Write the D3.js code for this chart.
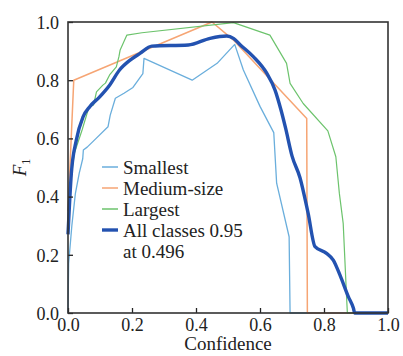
<!DOCTYPE html>
<html><head><meta charset="utf-8">
<script src="https://cdn.jsdelivr.net/npm/d3@7"></script>
<style>body{margin:0;background:#fff}svg{display:block}</style>
</head><body>
<script>
const seriesNames = ["Smallest", "Medium-size", "Largest", "All classes 0.95"];
const smallestX = [0, 0.002, 0.012, 0.023, 0.035, 0.046, 0.048, 0.06, 0.088, 0.125, 0.132, 0.148, 0.175, 0.203, 0.234, 0.2375, 0.388, 0.466, 0.521, 0.548, 0.60, 0.643, 0.652, 0.691, 0.694, 1.0];
const smallestY = [0, 0.17, 0.30, 0.41, 0.48, 0.53, 0.56, 0.57, 0.60, 0.64, 0.68, 0.738, 0.755, 0.775, 0.823, 0.875, 0.80, 0.858, 0.923, 0.835, 0.71, 0.62, 0.446, 0.262, 0, 0];
const mediumX = [0, 0.01, 0.018, 0.45, 0.52, 0.60, 0.746, 0.748, 1.0];
const mediumY = [0.35, 0.60, 0.80, 1.0, 0.935, 0.84, 0.668, 0, 0];
const largestX = [0, 0.008, 0.02, 0.044, 0.066, 0.080, 0.089, 0.109, 0.117, 0.130, 0.151, 0.159, 0.163, 0.184, 0.231, 0.517, 0.631, 0.683, 0.694, 0.735, 0.812, 0.837, 0.848, 0.860, 0.871, 0.873, 1.0];
const largestY = [0.28, 0.45, 0.55, 0.629, 0.709, 0.715, 0.76, 0.783, 0.79, 0.818, 0.846, 0.88, 0.904, 0.955, 0.963, 0.998, 0.955, 0.858, 0.789, 0.72, 0.626, 0.537, 0.411, 0.308, 0.045, 0, 0];
const allX = [0, 0.0104, 0.026, 0.047, 0.068, 0.099, 0.130, 0.161, 0.194, 0.225, 0.262, 0.376, 0.444, 0.496, 0.517, 0.537, 0.579, 0.621, 0.647, 0.665, 0.680, 0.700, 0.725, 0.750, 0.772, 0.808, 0.829, 0.850, 0.876, 0.892, 0.896, 1.0];
const allY = [0.27, 0.479, 0.594, 0.674, 0.709, 0.743, 0.783, 0.835, 0.869, 0.892, 0.917, 0.921, 0.944, 0.952, 0.944, 0.923, 0.881, 0.824, 0.766, 0.70, 0.635, 0.54, 0.465, 0.345, 0.228, 0.205, 0.182, 0.13, 0.056, 0.016, 0, 0];
const ticks = [0, 0.2, 0.4, 0.6, 0.8, 1.0];
const tickLabels = ["0.0", "0.2", "0.4", "0.6", "0.8", "1.0"];
const legendExtra = "at 0.496";

const colors = ["#6aaedc", "#f6a574", "#6cc36c", "#2352b0"];
const widths = [1.3, 1.5, 1.2, 3.4];
const FONT = "Liberation Serif, Times New Roman, Times, Nimbus Roman, FreeSerif, Noto Serif, DejaVu Serif, serif";

const W = 403, H = 356;
const m = {l: 68, t: 22, r: 15, b: 43};
const pw = W - m.l - m.r, ph = H - m.t - m.b;
const svg = d3.select("body").append("svg").attr("width", W).attr("height", H);
const x = d3.scaleLinear().domain([0, 1]).range([m.l, m.l + pw]);
const y = d3.scaleLinear().domain([0, 1]).range([m.t + ph, m.t]);

const series = [
  d3.zip(smallestX, smallestY),
  d3.zip(mediumX, mediumY),
  d3.zip(largestX, largestY),
  d3.zip(allX, allY)
];
const g = svg.append("g");
series.forEach((s, i) => {
  const line = d3.line().x(d => x(d[0])).y(d => y(d[1]))
    .curve(i === 3 ? d3.curveMonotoneX : d3.curveLinear);
  g.append("path").attr("d", line(s)).attr("fill", "none")
    .attr("stroke", colors[i]).attr("stroke-width", widths[i])
    .attr("stroke-linejoin", "round");
});

const fs = 18;
const xa = svg.append("g").attr("transform", `translate(0,${m.t + ph})`)
  .call(d3.axisBottom(x).tickValues(ticks).tickSizeInner(-5).tickSizeOuter(0).tickPadding(5).tickFormat((d, i) => tickLabels[i]));
const ya = svg.append("g").attr("transform", `translate(${m.l},0)`)
  .call(d3.axisLeft(y).tickValues(ticks).tickSizeInner(-5).tickSizeOuter(0).tickPadding(9).tickFormat((d, i) => tickLabels[i]));
[xa, ya].forEach(a => {
  a.attr("font-family", null).attr("font-size", null);
  a.select(".domain").remove();
  a.selectAll("text").attr("fill", "#222").attr("font-family", FONT).attr("font-size", fs);
  a.selectAll("line").attr("stroke", "#222").attr("stroke-width", 1.3);
});
ya.selectAll("text").attr("dy", "0.35em");
xa.selectAll("text").attr("dy", "0.71em");

svg.append("rect").attr("x", m.l).attr("y", m.t).attr("width", pw).attr("height", ph)
  .attr("fill", "none").attr("stroke", "#333").attr("stroke-width", 1.6);

function txt(sel, s) { return sel.attr("font-family", FONT).attr("fill", "#222").attr("font-size", s || fs); }

txt(svg.append("text"), 19).attr("x", x(0.5)).attr("y", 350).attr("text-anchor", "middle").text("Confidence");

const yl = txt(svg.append("text"), 19).attr("transform", `translate(26,${y(0.5)}) rotate(-90)`)
  .attr("text-anchor", "middle");
yl.append("tspan").attr("font-style", "italic").text("F");
yl.append("tspan").attr("dy", 4).attr("font-size", 12).text("1");

const lx = 102, ly0 = 167, dy = 21, lfs = 19;
seriesNames.forEach((n, i) => {
  const yy = ly0 + i * dy;
  svg.append("line").attr("x1", lx).attr("x2", lx + 16).attr("y1", yy).attr("y2", yy)
    .attr("stroke", colors[i]).attr("stroke-width", i === 3 ? 3.4 : 1.5);
  txt(svg.append("text"), lfs).attr("x", lx + 21).attr("y", yy).attr("dy", "0.35em").text(n);
});
txt(svg.append("text"), lfs).attr("x", lx + 21).attr("y", ly0 + 4 * dy).attr("dy", "0.35em").text(legendExtra);
</script>
</body></html>
